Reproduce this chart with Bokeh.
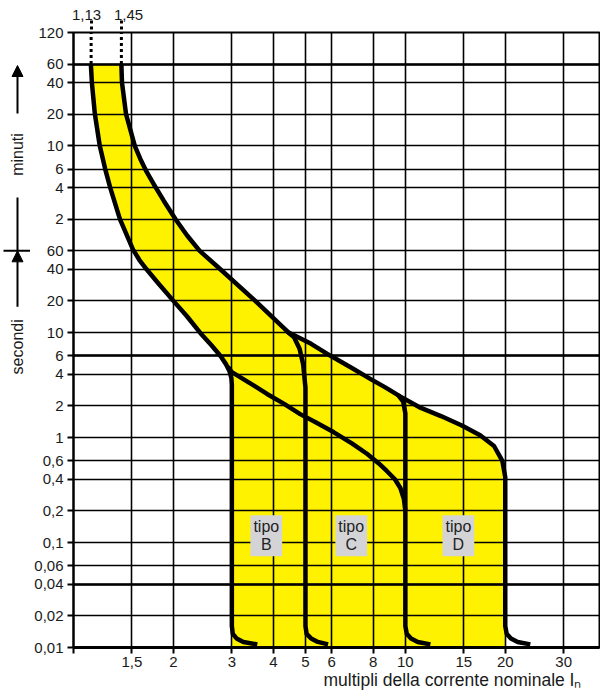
import math
from bokeh.plotting import figure
from bokeh.layouts import row
from bokeh.models import FixedTicker, Grid, Label, Arrow, NormalHead, Range1d, LogAxis
from bokeh.core.properties import value
from bokeh.embed import file_html
from bokeh.resources import INLINE

# ---------------- data ----------------
x_ticks = [1, 1.5, 2, 3, 4, 5, 6, 8, 10, 15, 20, 30]
x_tick_labels = ["", "1,5", "2", "3", "4", "5", "6", "8", "10", "15", "20", "30"]
x_grid = [1.5, 2, 3, 4, 5, 6, 8, 10, 15, 20, 30]

# time in seconds (upper part of the scale is labelled in minutes)
y_ticks = [0.01, 0.02, 0.04, 0.06, 0.1, 0.2, 0.4, 0.6, 1, 2, 4, 6, 10, 20, 40, 60,
           120, 240, 360, 600, 1200, 2400, 3600, 7200]
y_tick_labels = ["0,01", "0,02", "0,04", "0,06", "0,1", "0,2", "0,4", "0,6", "1", "2", "4",
                 "6", "10", "20", "40", "60", "2", "4", "6", "10", "20", "40", "60", "120"]
y_thick = [0.04, 6, 3600]

# conventional non-tripping limit (1,13 In) -> magnetic limit of type B (3 In)
lower_x = [1.128, 1.136, 1.16, 1.20, 1.246, 1.29, 1.38, 1.44, 1.51, 1.58, 1.66, 1.80, 2.0,
           2.2, 2.41, 2.6, 2.77, 2.88, 2.95, 2.99, 3.0]
lower_t = [3600, 2400, 1200, 600, 360, 240, 120, 88, 62, 49, 40, 29.5, 20,
           14.2, 9.9, 7.6, 6.0, 5.0, 4.3, 3.7, 3.2]
tailB_x = [3.0, 3.0, 3.02, 3.1, 3.25, 3.58]
tailB_t = [3.2, 0.016, 0.0135, 0.0122, 0.0113, 0.0107]

# continuation of the lower curve towards 10 In
lower2_x = [2.92, 3.0, 3.4, 3.83, 4.3, 4.82, 5.4, 6.09, 6.9, 7.66, 8.3, 8.79, 9.3, 9.66, 9.9, 10.0]
lower2_t = [4.7, 4.2, 3.3, 2.6, 2.1, 1.67, 1.38, 1.12, 0.88, 0.70, 0.57, 0.48, 0.40, 0.33, 0.26, 0.2]

# conventional tripping limit (1,45 In) -> magnetic limit of type D (20 In)
upper_x = [1.394, 1.40, 1.44, 1.53, 1.59, 1.66, 1.75, 1.87, 2.03, 2.2, 2.40,
           2.77, 3.53, 4.45, 5.2, 5.95, 6.9, 7.86, 8.7, 9.67, 11.0, 12.8, 14.8, 16.8, 18.5,
           19.6, 20.0]
upper_t = [3600, 2400, 1200, 600, 450, 340, 255, 180, 120, 84, 60,
           40, 20, 10, 7.8, 6.0, 4.6, 3.6, 3.0, 2.45, 1.95, 1.6, 1.3, 1.05, 0.83,
           0.6, 0.42]
tailD_x = [20.0, 20.0, 20.2, 20.8, 21.8, 23.8]
tailD_t = [0.42, 0.016, 0.0135, 0.0122, 0.0113, 0.0107]

# branch to 5 In (upper limit type B / lower limit type C)
branch5_x = [4.4, 4.62, 4.8, 4.92, 5.0, 5.0, 5.04, 5.2, 5.45, 5.85]
branch5_t = [10.2, 9.0, 7.0, 5.0, 3.0, 0.016, 0.0135, 0.0122, 0.0113, 0.0107]

# branch to 10 In (upper limit type C / lower limit type D)
branch10_x = [9.5, 9.85, 10.0, 10.0, 10.1, 10.4, 10.9, 11.9]
branch10_t = [2.55, 2.2, 1.7, 0.016, 0.0135, 0.0122, 0.0113, 0.0107]

top_marks_x = [1.13, 1.394]
top_marks_text = ["1,13", "1,45"]

type_names = ["tipo\nB", "tipo\nC", "tipo\nD"]

# ---------------- layout ----------------
DECO_W = 30
W, H = 600 - DECO_W, 695
BL, BR, BT, BB = 73 - DECO_W, 1, 32, 48
X0, X1 = 1.0, 38.46
Y0, Y1 = 0.01, 7200.0
FW = W - BL - BR
FH = H - BT - BB
LX = math.log10(X1) - math.log10(X0)
LY = math.log10(Y1) - math.log10(Y0)


def dx(page_x):
    return 10 ** (math.log10(X0) + (page_x - DECO_W - BL) / FW * LX)


def dy(page_y):
    return 10 ** (math.log10(Y0) + (BT + FH - page_y) / FH * LY)


def py(t):
    return BT + FH - (math.log10(t) - math.log10(Y0)) / LY * FH


FONT = "Liberation Sans"
YELLOW = "#FFF200"
TXT = "#1a1a1a"

p = figure(width=W, height=H, x_axis_type="log", y_axis_type="log",
           x_range=Range1d(X0, X1), y_range=Range1d(Y0, Y1),
           output_backend="svg", toolbar_location=None,
           min_border_left=BL, min_border_right=BR, min_border_top=BT, min_border_bottom=BB)
p.background_fill_color = "white"
p.border_fill_color = "white"
p.outline_line_color = "black"
p.outline_line_width = 2

# axes
p.xaxis.ticker = FixedTicker(ticks=x_ticks)
p.xaxis.major_label_overrides = {t: s for t, s in zip(x_ticks, x_tick_labels)}
p.yaxis.ticker = FixedTicker(ticks=y_ticks)
p.yaxis.major_label_overrides = {t: s for t, s in zip(y_ticks, y_tick_labels)}
for ax in (p.xaxis, p.yaxis):
    ax.minor_tick_line_color = None
    ax.major_tick_out = 6
    ax.major_tick_in = 0
    ax.major_tick_line_color = "black"
    ax.major_tick_line_width = 2
    ax.axis_line_color = "black"
    ax.axis_line_width = 2
    ax.major_label_text_font = FONT
    ax.major_label_text_font_size = "15px"
    ax.major_label_text_color = TXT
    ax.major_label_standoff = 4
p.xaxis.axis_line_width = 3
p.xaxis.major_label_standoff = 3

# axis title (as a single centred tick label of an extra axis below)
title_x = dx(452)
title_axis = LogAxis(ticker=FixedTicker(ticks=[title_x]),
                     major_label_overrides={title_x: "multipli della corrente nominale I\u2099"},
                     axis_line_color=None, major_tick_line_color=None, minor_tick_line_color=None,
                     major_tick_out=0, major_tick_in=0,
                     major_label_standoff=0, major_label_text_font=FONT,
                     major_label_text_font_size="17.5px", major_label_text_color=TXT)
p.add_layout(title_axis, "below")

# dashed marks at 1,13 and 1,45 above the frame (ticks only)
mark_axis = LogAxis(ticker=FixedTicker(ticks=top_marks_x),
                    major_label_overrides={t: "" for t in top_marks_x},
                    axis_line_color=None, minor_tick_line_color=None,
                    major_tick_out=12, major_tick_in=0, major_tick_line_color="black",
                    major_tick_line_width=3, major_tick_line_dash="3 3",
                    major_label_standoff=0, major_label_text_font_size="0px")
p.add_layout(mark_axis, "above")
# their labels, slightly offset as in the original drawing
label_pos = [dx(86), dx(128)]
label_axis = LogAxis(ticker=FixedTicker(ticks=label_pos),
                     major_label_overrides={t: s for t, s in zip(label_pos, top_marks_text)},
                     axis_line_color=None, minor_tick_line_color=None, major_tick_line_color=None,
                     major_tick_out=0, major_tick_in=0, major_label_standoff=1,
                     major_label_text_font=FONT, major_label_text_font_size="15px",
                     major_label_text_color=TXT)
p.add_layout(label_axis, "above")

# grid
p.xgrid.ticker = FixedTicker(ticks=x_grid)
p.ygrid.ticker = FixedTicker(ticks=y_ticks)
p.grid.grid_line_color = "black"
p.grid.grid_line_width = 1.6
p.grid.grid_line_alpha = 1.0
p.add_layout(Grid(dimension=1, ticker=FixedTicker(ticks=y_thick),
                  grid_line_color="black", grid_line_width=2.6))

# yellow band
band_x = lower_x + [3.0, 3.0, 20.0] + upper_x[::-1]
band_t = lower_t + [0.016, Y0, Y0] + upper_t[::-1]
band = p.patch(band_x, band_t, fill_color=YELLOW, line_color=None)
band.level = "image"

LW = 4.5
for xs, ts in [(lower_x + tailB_x, lower_t + tailB_t),
               (lower2_x, lower2_t),
               (upper_x + tailD_x, upper_t + tailD_t),
               (branch5_x, branch5_t),
               (branch10_x, branch10_t)]:
    p.line(xs, ts, line_color="black", line_width=LW, line_join="round", line_cap="butt")

# dashed continuation inside the frame
p.segment(x0=top_marks_x, y0=[3600, 3600], x1=top_marks_x, y1=[Y1, Y1],
          line_color="black", line_width=3, line_dash="3 3")

# type labels
for xc, name in zip([3.81, 6.87, 14.45], type_names):
    p.add_layout(Label(x=xc, y=0.116, text=name, text_align="center", text_baseline="middle",
                       text_font=FONT, text_font_size="16px", text_color="#222222",
                       background_fill_color="#d4d4d6", padding=3, text_line_height=1.05))

# ---------------- left decorations: minuti / secondi ----------------
deco = figure(width=DECO_W, height=H, y_axis_type="log", y_range=p.y_range,
              x_range=Range1d(0, DECO_W), x_axis_location=None, y_axis_location=None,
              output_backend="svg", toolbar_location=None,
              min_border_left=0, min_border_right=0, min_border_top=BT, min_border_bottom=BB)
deco.outline_line_color = None
deco.grid.visible = False
deco.background_fill_color = "white"
deco.border_fill_color = "white"

xa = 17
y60 = py(60)
head = dict(size=11, fill_color="black", line_color="black", line_width=1)
deco.add_layout(Arrow(end=NormalHead(**head), x_start=xa, y_start=dy(113), x_end=xa, y_end=dy(65),
                      line_color="black", line_width=2))
deco.text(x=[xa], y=[dy(154)], text=["minuti"], angle=math.pi / 2, text_align="center",
          text_baseline="middle", text_font=value(FONT), text_font_size="16px", text_color=TXT)
deco.segment(x0=[xa, 3], y0=[dy(197), 60], x1=[xa, DECO_W], y1=[60, 60],
             line_color="black", line_width=2)
deco.add_layout(Arrow(end=NormalHead(**head), x_start=xa, y_start=dy(y60 + 56), x_end=xa, y_end=60,
                      line_color="black", line_width=2))
deco.text(x=[xa], y=[dy(y60 + 96)], text=["secondi"], angle=math.pi / 2, text_align="center",
          text_baseline="middle", text_font=value(FONT), text_font_size="16px", text_color=TXT)

layout = row(deco, p)
open("out.html", "w").write(file_html(layout, INLINE))
